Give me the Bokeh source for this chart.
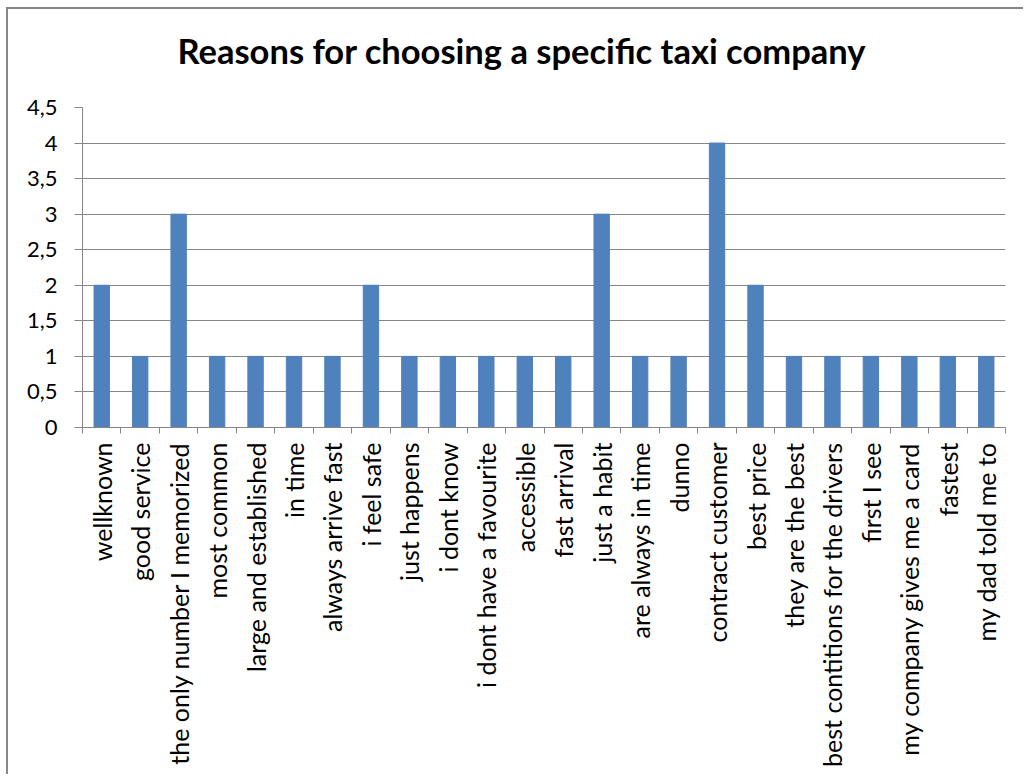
import numpy as np
from bokeh.plotting import figure
from bokeh.models import FixedTicker, Range1d, Title
from bokeh.embed import file_html
from bokeh.resources import INLINE

categories = ["wellknown", "good service", "the only number I memorized", "most common",
              "large and established", "in time", "always arrive fast", "i feel safe",
              "just happens", "i dont know", "i dont have a favourite", "accessible",
              "fast arrival", "just a habit", "are always in time", "dunno",
              "contract customer", "best price", "they are the best",
              "best contitions for the drivers", "first I see",
              "my company gives me a card", "fastest", "my dad told me to"]
counts = [2, 1, 3, 1, 1, 1, 1, 2, 1, 1, 1, 1, 1, 3, 1, 1, 4, 2, 1, 1, 1, 1, 1, 1]
y_ticks = [0, 0.5, 1, 1.5, 2, 2.5, 3, 3.5, 4, 4.5]
title_text = "Reasons for choosing a specific taxi company"

FONT = "Lato"
GRID = "#868686"
n = len(categories)
centers = [i + 0.5 for i in range(n)]
bounds = list(range(n + 1))

p = figure(width=1017, height=767, output_backend="svg", toolbar_location=None,
           x_range=Range1d(0, n), y_range=Range1d(0, 4.5),
           min_border_left=74, min_border_right=20, min_border_top=98,
           min_border_bottom=349, margin=(7, 0, 0, 6),
           styles={"border-left": "2px solid #878787", "border-top": "2px solid #878787",
                   "border-right": "none", "border-bottom": "none"})

p.title.text = title_text
p.title.text_font = FONT
p.title.text_font_size = "34.5px"
p.title.text_font_style = "bold"
p.title.text_color = "black"
p.title.align = "left"
p.title.vertical_align = "bottom"
p.title.offset = 95
p.title.standoff = 0

# empty spacer between the title and the plot area
p.add_layout(Title(text=" ", text_font_size="1px", standoff=34), "above")

p.vbar(x=centers, top=counts, width=0.4, color="#4F81BD")

p.outline_line_color = None
p.xgrid.visible = False
p.ygrid.grid_line_color = GRID
p.ygrid.grid_line_width = 1
p.ygrid.ticker = FixedTicker(ticks=y_ticks)

xa = p.xaxis[0]
xa.ticker = FixedTicker(ticks=centers, minor_ticks=bounds)
xa.major_label_overrides = {c: lab for c, lab in zip(centers, categories)}
xa.major_label_orientation = np.pi / 2
xa.major_tick_line_color = None
xa.major_tick_out = 0
xa.major_tick_in = 0
xa.minor_tick_line_color = GRID
xa.minor_tick_out = 6
xa.minor_tick_in = 0
xa.axis_line_color = GRID
xa.major_label_text_font = FONT
xa.major_label_text_font_size = "25px"
xa.major_label_text_color = "black"
xa.major_label_standoff = 9

ya = p.yaxis[0]
ya.ticker = FixedTicker(ticks=y_ticks)
ya.major_label_overrides = {t: (f"{t:g}").replace(".", ",") for t in y_ticks}
ya.major_tick_line_color = GRID
ya.major_tick_out = 8
ya.major_tick_in = 0
ya.minor_tick_line_color = None
ya.axis_line_color = GRID
ya.major_label_text_font = FONT
ya.major_label_text_font_size = "22px"
ya.major_label_text_color = "black"
ya.major_label_standoff = 17

open("out.html", "w").write(file_html(p, INLINE))
